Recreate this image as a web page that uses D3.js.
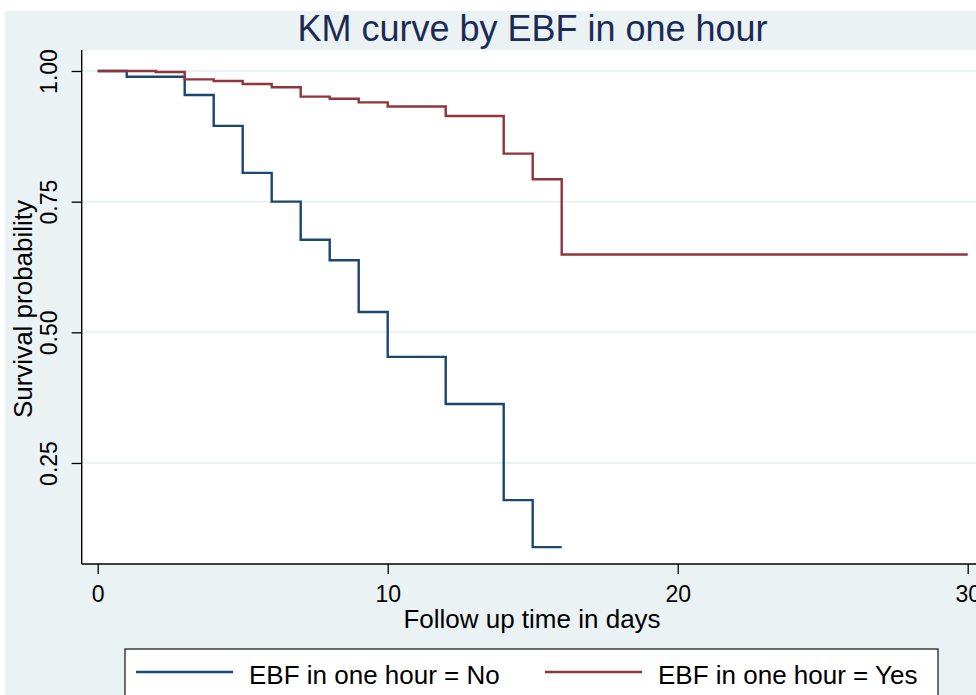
<!DOCTYPE html>
<html>
<head>
<meta charset="utf-8">
<script src="https://cdn.jsdelivr.net/npm/d3@7"></script>
<style>
  html, body { margin: 0; padding: 0; background: #fff; }
  svg { display: block; font-family: "Liberation Sans", Arial, sans-serif; }
</style>
</head>
<body>
<div id="chart"></div>
<script>
const width = 976;
const height = 695;

// follow-up day of each step and the survival estimate from that day on
const timesNo = [0, 1, 3, 4, 5, 6, 7, 8, 9, 10, 12, 14, 15, 16];
const survNo = [1, 0.989, 0.954, 0.895, 0.805, 0.750, 0.677, 0.638, 0.539, 0.453, 0.363, 0.179, 0.089, 0.089];

const timesYes = [0, 2, 3, 4, 5, 6, 7, 8, 9, 10, 12, 14, 15, 16, 30];
const survYes = [1, 0.998, 0.984, 0.981, 0.975, 0.969, 0.951, 0.947, 0.940, 0.932, 0.914, 0.842, 0.793, 0.649, 0.649];

const xTicks = [0, 10, 20, 30];
const yTicks = [0.25, 0.50, 0.75, 1.00];
const seriesNames = ["EBF in one hour = No", "EBF in one hour = Yes"];
const seriesColors = ["#1a476f", "#90353b"];

const bg = "#eaf2f3";
const plotLeft = 81.7, plotTop = 50, plotBottom = 564, plotRight = 990;

const svg = d3.select("#chart")
    .append("svg")
    .attr("width", width)
    .attr("height", height);

// outer graph region (slight white margin top/left like the export)
svg.append("rect")
    .attr("x", 5).attr("y", 11)
    .attr("width", width).attr("height", height)
    .attr("fill", bg);

// plot region
svg.append("rect")
    .attr("x", plotLeft).attr("y", plotTop)
    .attr("width", plotRight - plotLeft).attr("height", plotBottom - plotTop)
    .attr("fill", "#fff");

var x = d3.scaleLinear([0, 30], [97.7, 967.7]);
var y = d3.scaleLinear([0.25, 1], [463, 71]);

// grid lines
svg.append("g")
    .selectAll("line")
    .data(yTicks)
    .join("line")
    .attr("x1", plotLeft).attr("x2", plotRight)
    .attr("y1", d => y(d)).attr("y2", d => y(d))
    .attr("stroke", bg)
    .attr("stroke-width", 2);

// KM step curves
var line = d3.line()
    .x(d => x(d[0]))
    .y(d => y(d[1]))
    .curve(d3.curveStepAfter);

var series = [
    d3.zip(timesNo, survNo),
    d3.zip(timesYes, survYes)
];

svg.append("g")
    .selectAll("path")
    .data(series)
    .join("path")
    .attr("d", line)
    .attr("fill", "none")
    .attr("stroke", (d, i) => seriesColors[i])
    .attr("stroke-width", 2.4)
    .attr("stroke-linejoin", "miter");

// axes
var xAxis = svg.append("g")
    .attr("transform", `translate(0,${plotBottom})`)
    .call(d3.axisBottom(x).tickValues(xTicks).tickSize(10).tickSizeOuter(0).tickFormat(d3.format("d")));
xAxis.select(".domain").remove();
xAxis.selectAll("line").attr("stroke", "#000").attr("stroke-width", 1.3);
xAxis.selectAll("text")
    .attr("y", 38).attr("dy", null)
    .attr("font-size", 23)
    .attr("font-family", "Liberation Sans, Arial, sans-serif")
    .attr("fill", "#000");

var yAxis = svg.append("g")
    .attr("transform", `translate(${plotLeft},0)`)
    .call(d3.axisLeft(y).tickValues(yTicks).tickSize(10).tickSizeOuter(0).tickFormat(d3.format(".2f")));
yAxis.select(".domain").remove();
yAxis.selectAll("line").attr("stroke", "#000").attr("stroke-width", 1.3);
yAxis.selectAll("text")
    .attr("x", 0).attr("y", -24.7).attr("dy", null)
    .attr("transform", "rotate(-90)")
    .attr("text-anchor", "middle")
    .attr("font-size", 23)
    .attr("font-family", "Liberation Sans, Arial, sans-serif")
    .attr("fill", "#000");

// axis lines along plot region edges
svg.append("line")
    .attr("x1", plotLeft).attr("x2", plotLeft)
    .attr("y1", plotTop).attr("y2", plotBottom)
    .attr("stroke", "#000").attr("stroke-width", 1.4);
svg.append("line")
    .attr("x1", plotLeft).attr("x2", plotRight)
    .attr("y1", plotBottom).attr("y2", plotBottom)
    .attr("stroke", "#000").attr("stroke-width", 1.4);

// titles
svg.append("text")
    .attr("x", 532.5).attr("y", 41)
    .attr("text-anchor", "middle")
    .attr("font-size", 36)
    .attr("fill", "#1c2b53")
    .text("KM curve by EBF in one hour");

svg.append("text")
    .attr("x", 532).attr("y", 628)
    .attr("text-anchor", "middle")
    .attr("font-size", 26)
    .attr("fill", "#000")
    .text("Follow up time in days");

svg.append("text")
    .attr("transform", "translate(32,309) rotate(-90)")
    .attr("text-anchor", "middle")
    .attr("font-size", 26)
    .attr("fill", "#000")
    .text("Survival probability");

// legend
var legend = svg.append("g");
legend.append("rect")
    .attr("x", 125).attr("y", 649)
    .attr("width", 813).attr("height", 80)
    .attr("fill", "#fff")
    .attr("stroke", "#333")
    .attr("stroke-width", 1.4);

var keyX = [136, 545];
var items = legend.selectAll("g.item")
    .data(seriesNames)
    .join("g")
    .attr("class", "item")
    .attr("transform", (d, i) => `translate(${keyX[i]},0)`);
items.append("line")
    .attr("x1", 0).attr("x2", 97)
    .attr("y1", 672).attr("y2", 672)
    .attr("stroke", (d, i) => seriesColors[i])
    .attr("stroke-width", 2.4);
items.append("text")
    .attr("x", 113).attr("y", 684)
    .attr("font-size", 26)
    .attr("fill", "#000")
    .text(d => d);
</script>
</body>
</html>
